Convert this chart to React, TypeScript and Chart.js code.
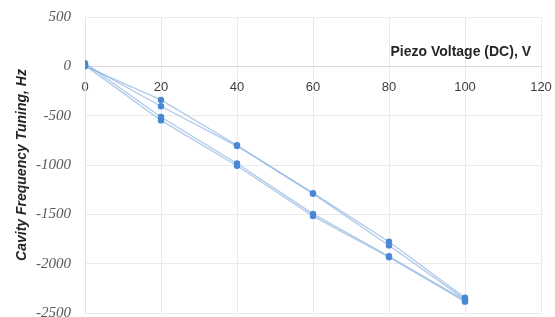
import React, { useEffect, useRef } from "react";
import { Chart, registerables } from "chart.js";

Chart.register(...registerables);

const voltages = [0, 20, 40, 60, 80, 100];
const upRun1 = [0, -340, -800, -1285, -1778, -2345];
const upRun2 = [20, -405, -808, -1292, -1815, -2362];
const downRun1 = [32, -514, -985, -1495, -1925, -2372];
const downRun2 = [10, -548, -1008, -1518, -1935, -2385];

const xTicks = [0, 20, 40, 60, 80, 100, 120];
const yTicks = [500, 0, -500, -1000, -1500, -2000, -2500];

const xTitle = "Piezo Voltage (DC), V";
const yTitle = "Cavity Frequency Tuning, Hz";

const series = [upRun1, upRun2, downRun1, downRun2];

const xTitlePlugin = {
  id: "xTitlePlugin",
  afterDraw(chart: any) {
    const { ctx, chartArea } = chart;
    ctx.save();
    ctx.font = "bold 14px 'Liberation Sans', Arial, sans-serif";
    ctx.fillStyle = "#262626";
    ctx.textAlign = "right";
    ctx.textBaseline = "alphabetic";
    ctx.fillText(xTitle, chartArea.right - 10, 56);
    ctx.restore();
  },
};

export default function App() {
  const ref = useRef<HTMLCanvasElement | null>(null);

  useEffect(() => {
    document.body.style.margin = "0";
    const canvas = ref.current;
    if (!canvas) return;
    const chart = new Chart(canvas, {
      type: "line",
      data: {
        datasets: series.map((s) => ({
          data: voltages.map((v, i) => ({ x: v, y: s[i] })),
          borderColor: "rgba(140,178,224,0.7)",
          borderWidth: 1.3,
          pointRadius: 3.2,
          pointBackgroundColor: "#4a88d4",
          pointBorderColor: "#4a88d4",
          pointBorderWidth: 0,
          fill: false,
          tension: 0,
        })),
      },
      options: {
        responsive: false,
        animation: false,
        layout: { padding: { top: 17, bottom: 3, left: 0, right: 14 } },
        plugins: {
          legend: { display: false },
          tooltip: { enabled: false },
        },
        scales: {
          x: {
            type: "linear",
            position: { y: 0 } as any,
            min: 0,
            max: 120,
            afterBuildTicks: (axis: any) => {
              axis.ticks = xTicks.map((v) => ({ value: v }));
            },
            afterFit: (axis: any) => {
              axis.paddingLeft = 0;
              axis.paddingRight = 0;
            },
            grid: { color: "#ebebeb", drawTicks: false },
            border: { color: "#d9d9d9" },
            ticks: {
              padding: 13,
              color: "#404040",
              font: { family: "'Liberation Sans', Arial, sans-serif", size: 13 },
              callback: (v: any) => String(v),
            },
          },
          y: {
            type: "linear",
            position: "left",
            min: -2500,
            max: 500,
            afterBuildTicks: (axis: any) => {
              axis.ticks = yTicks.map((v) => ({ value: v }));
            },
            afterFit: (axis: any) => {
              axis.width = 85;
              axis.paddingTop = 0;
              axis.paddingBottom = 0;
            },
            grid: { color: "#ebebeb", drawTicks: false },
            border: { color: "#e3e3e3" },
            ticks: {
              padding: 14,
              color: "#595959",
              font: { family: "'Liberation Serif', 'Times New Roman', serif", size: 15, style: "italic" },
              callback: (v: any) => String(v),
            },
            title: {
              display: true,
              text: yTitle,
              color: "#262626",
              padding: { top: 14, bottom: 0 },
              font: { family: "'Liberation Sans', Arial, sans-serif", size: 14, weight: "bold", style: "italic" },
            },
          },
        },
      },
      plugins: [xTitlePlugin],
    });
    return () => chart.destroy();
  }, []);

  return <canvas ref={ref} width={555} height={317} style={{ display: "block" }} />;
}
